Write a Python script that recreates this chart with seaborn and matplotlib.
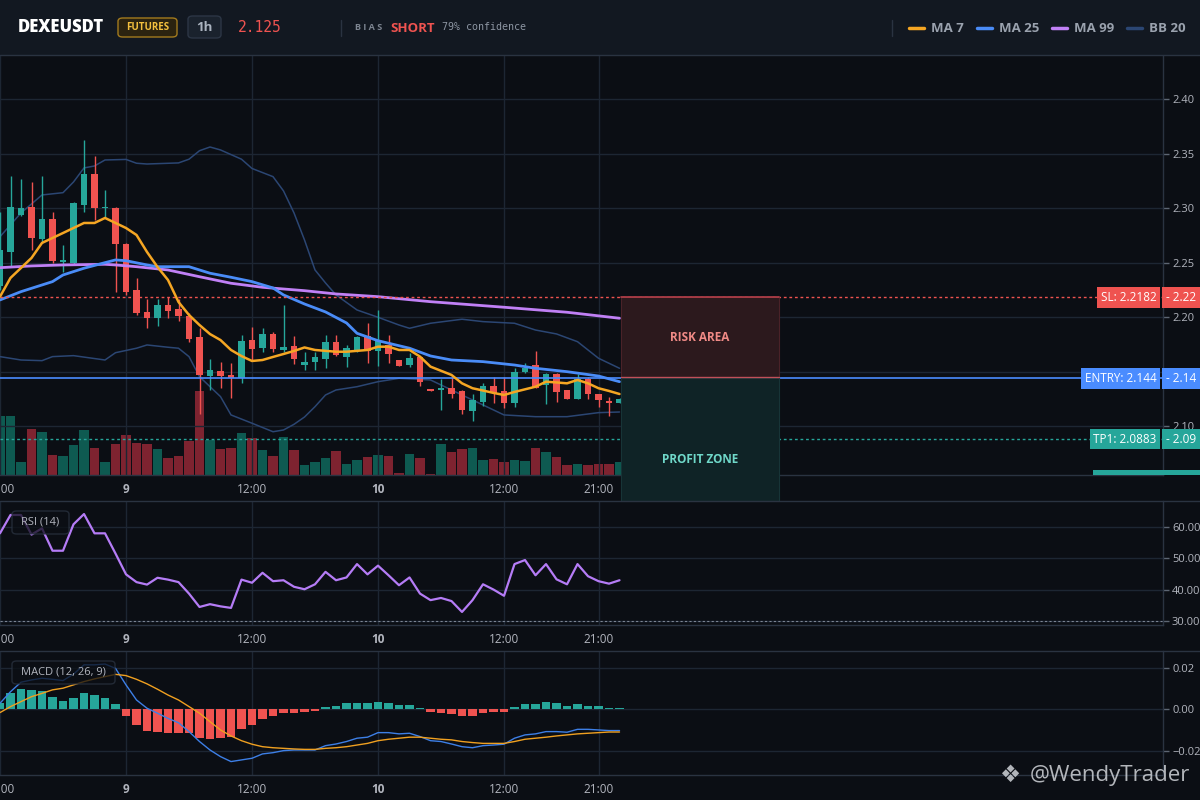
import matplotlib
matplotlib.use("Agg")
import matplotlib.pyplot as plt
import matplotlib.transforms as mtransforms
from matplotlib.patches import Rectangle, FancyBboxPatch
from matplotlib.lines import Line2D
import seaborn as sns

# ---- values: 1h candles, day 8 12:00 -> day 10 23:00 ----
opens = [2.2290, 2.2602, 2.2939, 2.3009, 2.2718, 2.2902, 2.2510, 2.2495, 2.3030, 2.3315,
         2.3003, 2.3003, 2.2672, 2.2250, 2.2049, 2.1996, 2.2113, 2.2076, 2.2012, 2.1822,
         2.1464, 2.1510, 2.1471, 2.1440, 2.1792, 2.1716, 2.1847, 2.1700, 2.1737, 2.1562,
         2.1593, 2.1617, 2.1773, 2.1639, 2.1694, 2.1828, 2.1694, 2.1746, 2.1608, 2.1562,
         2.1639, 2.1342, 2.1330, 2.1349, 2.1324, 2.1143, 2.1226, 2.1370, 2.1324, 2.1211,
         2.1498, 2.1560, 2.1376, 2.1480, 2.1333, 2.1250, 2.1437, 2.1296, 2.1235, 2.1217]
highs = [2.2969, 2.3296, 2.3269, 2.3244, 2.3296, 2.2969, 2.2663, 2.3061, 2.3627, 2.3480,
         2.3168, 2.3010, 2.2680, 2.2358, 2.2168, 2.2165, 2.2189, 2.2165, 2.2042, 2.1899,
         2.1615, 2.1587, 2.1578, 2.1838, 2.1908, 2.1899, 2.1868, 2.2113, 2.1828, 2.1684,
         2.1684, 2.1838, 2.1838, 2.1746, 2.1828, 2.1945, 2.2067, 2.1838, 2.1610, 2.1675,
         2.1645, 2.1345, 2.1437, 2.1455, 2.1333, 2.1294, 2.1400, 2.1455, 2.1455, 2.1532,
         2.1578, 2.1694, 2.1492, 2.1486, 2.1335, 2.1477, 2.1450, 2.1298, 2.1266, 2.1260]
lows = [2.2250, 2.2464, 2.2929, 2.2617, 2.2684, 2.2495, 2.2418, 2.2486, 2.2969, 2.2893,
        2.2908, 2.2235, 2.2205, 2.2021, 2.1905, 2.1923, 2.1996, 2.1966, 2.1771, 2.1113,
        2.1333, 2.1354, 2.1262, 2.1394, 2.1608, 2.1684, 2.1684, 2.1684, 2.1569, 2.1517,
        2.1517, 2.1532, 2.1645, 2.1547, 2.1684, 2.1583, 2.1553, 2.1578, 2.1550, 2.1541,
        2.1370, 2.1325, 2.1150, 2.1257, 2.1113, 2.1051, 2.1186, 2.1217, 2.1171, 2.1180,
        2.1492, 2.1350, 2.1205, 2.1226, 2.1248, 2.1248, 2.1250, 2.1180, 2.1097, 2.1210]
closes = [2.2617, 2.3009, 2.3000, 2.2730, 2.2902, 2.2517, 2.2526, 2.3051, 2.3315, 2.3006,
          2.3015, 2.2675, 2.2235, 2.2042, 2.1996, 2.2113, 2.2061, 2.2015, 2.1801, 2.1471,
          2.1517, 2.1464, 2.1440, 2.1783, 2.1709, 2.1847, 2.1709, 2.1730, 2.1617, 2.1590,
          2.1633, 2.1773, 2.1654, 2.1716, 2.1817, 2.1694, 2.1792, 2.1663, 2.1553, 2.1624,
          2.1409, 2.1327, 2.1351, 2.1296, 2.1150, 2.1241, 2.1370, 2.1303, 2.1217, 2.1498,
          2.1538, 2.1354, 2.1480, 2.1317, 2.1250, 2.1437, 2.1296, 2.1241, 2.1217, 2.1248]
volumes = [59, 59, 13, 46, 43, 20, 19, 30, 45, 27, 13, 31, 40, 32, 31, 26, 17, 19, 34, 84,
           35, 26, 27, 42, 37, 25, 19, 38, 25, 10, 13, 17, 24, 11, 15, 18, 20, 19, 2, 21,
           17, 1, 31, 23, 26, 27, 15, 16, 13, 15, 14, 27, 23, 18, 10, 11, 10, 11, 11, 13]

ma7_idx = [0, 1, 3, 4, 6, 8, 9, 10, 11, 12, 13, 14, 15, 16, 17, 18, 19, 20, 21, 22, 23, 24,
           25, 26, 27, 28, 29, 30, 32, 33, 35, 36, 37, 38, 39, 40, 41, 43, 44, 45, 46, 47,
           48, 49, 51, 52, 53, 54, 55, 56, 57, 58, 59]
ma7_val = [2.2189, 2.2361, 2.2544, 2.2682, 2.2773, 2.2865, 2.2865, 2.2911, 2.2865, 2.2819,
           2.2755, 2.2599, 2.2461, 2.2342, 2.2140, 2.2021, 2.1929, 2.1846, 2.1791, 2.1700,
           2.1644, 2.1599, 2.1608, 2.1636, 2.1663, 2.1691, 2.1723, 2.1700, 2.1684, 2.1684,
           2.1700, 2.1730, 2.1730, 2.1700, 2.1700, 2.1639, 2.1547, 2.1471, 2.1394, 2.1349,
           2.1328, 2.1306, 2.1287, 2.1315, 2.1363, 2.1409, 2.1402, 2.1394, 2.1425, 2.1394,
           2.1349, 2.1324, 2.1296]

ma25_idx = [0, 2, 5, 6, 8, 10, 11, 12, 14, 15, 18, 20, 22, 24, 26, 27, 29, 31, 33, 34, 36,
            39, 41, 43, 46, 49, 51, 54, 57, 59]
ma25_val = [2.2159, 2.2235, 2.2327, 2.2388, 2.2450, 2.2501, 2.2526, 2.2519, 2.2480, 2.2464,
            2.2464, 2.2404, 2.2367, 2.2327, 2.2269, 2.2205, 2.2122, 2.2049, 2.1948, 2.1853,
            2.1785, 2.1716, 2.1645, 2.1608, 2.1593, 2.1562, 2.1532, 2.1501, 2.1461, 2.1409]

ma99_idx = [0, 3, 6, 10, 11, 13, 16, 19, 22, 25, 29, 32, 36, 41, 48, 54, 59]
ma99_val = [2.2455, 2.2471, 2.2480, 2.2486, 2.2480, 2.2464, 2.2434, 2.2372, 2.2312, 2.2275,
            2.2244, 2.2214, 2.2189, 2.2143, 2.2092, 2.2046, 2.1991]

bb_up_idx = [0, 2, 4, 6, 7, 8, 9, 10, 12, 13, 14, 17, 18, 19, 20, 21, 23, 24, 26, 27, 28,
             29, 30, 31, 32, 34, 36, 38, 39, 41, 44, 46, 49, 51, 53, 55, 57, 59]
bb_up_val = [2.2739, 2.2957, 2.3122, 2.3143, 2.3241, 2.3370, 2.3388, 2.3443, 2.3448, 2.3413,
             2.3406, 2.3416, 2.3450, 2.3528, 2.3562, 2.3535, 2.3450, 2.3365, 2.3290, 2.3159,
             2.2957, 2.2709, 2.2434, 2.2315, 2.2205, 2.2067, 2.2000, 2.1929, 2.1899, 2.1945,
             2.1982, 2.1960, 2.1945, 2.1883, 2.1847, 2.1776, 2.1624, 2.1532]
bb_lo_idx = [0, 2, 4, 5, 7, 10, 11, 13, 14, 16, 17, 18, 19, 21, 22, 24, 26, 27, 28, 29, 30,
             31, 32, 34, 36, 38, 41, 44, 48, 51, 54, 57, 59]
bb_lo_val = [2.1639, 2.1608, 2.1602, 2.1639, 2.1648, 2.1608, 2.1675, 2.1716, 2.1746, 2.1725,
             2.1716, 2.1639, 2.1455, 2.1272, 2.1104, 2.1028, 2.0950, 2.0966, 2.1018, 2.1085,
             2.1180, 2.1287, 2.1333, 2.1363, 2.1409, 2.1440, 2.1425, 2.1287, 2.1104, 2.1088,
             2.1088, 2.1125, 2.1131]

rsi_vals = [58.1, 64.0, 64.0, 57.7, 59.7, 52.5, 52.5, 61.0, 64.3, 58.1,
            58.1, 51.6, 44.9, 42.4, 41.6, 43.8, 43.2, 42.4, 38.7, 34.4,
            35.3, 34.6, 34.1, 43.2, 42.2, 45.4, 42.7, 43.0, 40.9, 40.1,
            41.7, 45.7, 43.0, 43.9, 48.2, 44.9, 47.7, 44.6, 41.4, 43.9,
            38.7, 36.6, 37.3, 36.3, 32.8, 36.6, 41.7, 40.0, 38.0, 48.2,
            49.5, 44.6, 48.2, 43.3, 41.7, 48.2, 44.3, 42.7, 41.9, 43.0]

macd_hist = [0.0029, 0.0081, 0.0098, 0.0094, 0.0089, 0.0061, 0.0040, 0.0053, 0.0081, 0.0069,
             0.0053, 0.0026, -0.0031, -0.0076, -0.0105, -0.0110, -0.0113, -0.0113, -0.0116, -0.0137,
             -0.0145, -0.0140, -0.0135, -0.0095, -0.0076, -0.0047, -0.0031, -0.0019, -0.0019, -0.0013,
             -0.0010, 0.0013, 0.0018, 0.0032, 0.0032, 0.0032, 0.0037, 0.0032, 0.0021, 0.0021,
             0.0008, -0.0013, -0.0016, -0.0023, -0.0031, -0.0031, -0.0016, -0.0013, -0.0013, 0.0010,
             0.0026, 0.0026, 0.0035, 0.0029, 0.0016, 0.0026, 0.0016, 0.0016, 0.0008, 0.0006]
macd_line = [0.0029, 0.0085, 0.0131, 0.0142, 0.0150, 0.0145, 0.0139, 0.0170, 0.0215, 0.0215,
             0.0219, 0.0198, 0.0118, 0.0045, 0.0005, -0.0019, -0.0044, -0.0065, -0.0108, -0.0156,
             -0.0197, -0.0229, -0.0253, -0.0245, -0.0237, -0.0216, -0.0210, -0.0200, -0.0197, -0.0197,
             -0.0197, -0.0176, -0.0168, -0.0156, -0.0140, -0.0135, -0.0113, -0.0113, -0.0119, -0.0116,
             -0.0132, -0.0152, -0.0156, -0.0168, -0.0181, -0.0186, -0.0176, -0.0173, -0.0169, -0.0140,
             -0.0124, -0.0119, -0.0108, -0.0108, -0.0111, -0.0097, -0.0097, -0.0100, -0.0103, -0.0103]
macd_signal = [-0.0016, 0.0013, 0.0037, 0.0061, 0.0077, 0.0094, 0.0102, 0.0118, 0.0134, 0.0147,
               0.0158, 0.0169, 0.0163, 0.0145, 0.0123, 0.0097, 0.0069, 0.0045, 0.0013, -0.0019,
               -0.0060, -0.0100, -0.0129, -0.0152, -0.0169, -0.0181, -0.0186, -0.0189, -0.0192, -0.0194,
               -0.0194, -0.0189, -0.0186, -0.0181, -0.0173, -0.0165, -0.0152, -0.0145, -0.0140, -0.0135,
               -0.0135, -0.0140, -0.0145, -0.0148, -0.0156, -0.0161, -0.0165, -0.0165, -0.0165, -0.0156,
               -0.0145, -0.0140, -0.0135, -0.0129, -0.0124, -0.0119, -0.0116, -0.0113, -0.0110, -0.0110]

time_ticks = [0, 12, 24, 36, 48, 57]
time_labels = ["12:00", "9", "12:00", "10", "12:00", "21:00"]
day_labels = ["9", "10"]
price_ticks = [2.10, 2.15, 2.20, 2.25, 2.30, 2.35, 2.40]
rsi_ticks = [30, 40, 50, 60]
macd_ticks = [-0.02, 0.0, 0.02]

symbol = "DEXEUSDT"
market = "FUTURES"
interval = "1h"
last_price = 2.125
bias = "SHORT"
confidence = 79
entry = 2.144
stop_loss = 2.2182
take_profit = 2.0883
zone_floor = 2.0315
zone_hours = 15

# ---- colours ----
BG = "#0b0e14"
HEADER = "#121821"
GRID = "#1d2633"
BORDER = "#2a3341"
TEXT = "#b2b5be"
UP = "#26a69a"
DOWN = "#ef5350"
VOL_UP = "#0e5a51"
VOL_DOWN = "#7e2330"
MA7_C = "#f5a623"
MA25_C = "#4a8cf7"
MA99_C = "#c080f5"
BB_C = "#2b4673"

W, H = 1200, 800


def fx(px):
    return px / W


def fy(px):
    return 1 - px / H


def style_pane(ax, yticks, fmt):
    ax.set_facecolor(BG)
    ax.set_xlim(0, 110.76)
    ax.set_xticks(time_ticks)
    ax.set_xticklabels(time_labels)
    for lab in ax.get_xticklabels():
        if lab.get_text() in day_labels:
            lab.set_fontweight("bold")
            lab.set_color("#d1d4dc")
    ax.yaxis.tick_right()
    ax.set_yticks(yticks)
    ax.set_yticklabels([fmt(v) for v in yticks])
    ax.tick_params(axis="x", length=0, pad=6, labelsize=8.5, colors=TEXT)
    ax.tick_params(axis="y", length=4, width=1, pad=2.5, labelsize=8,
                   colors="#5d6673", labelcolor=TEXT)
    ax.grid(True, color=GRID, linewidth=1)
    ax.set_axisbelow(True)
    for side in ["top", "left"]:
        ax.spines[side].set_visible(False)
    for side in ["bottom", "right"]:
        ax.spines[side].set_color(BORDER)
        ax.spines[side].set_linewidth(1)
    ax.set_xlabel("")
    ax.set_ylabel("")


def draw_price_pane(fig):
    ax = fig.add_axes([0, fy(475), fx(1163), 420 / H])
    ax_vol = ax.twinx()
    ax.set_zorder(ax_vol.get_zorder() + 1)
    ax.patch.set_visible(False)
    ax_vol.set_facecolor(BG)
    for s in ax_vol.spines.values():
        s.set_visible(False)

    x = list(range(len(closes)))
    rising = [c >= o for o, c in zip(opens, closes)]

    # volume
    ax_vol.bar(x, volumes, width=0.9, linewidth=0,
               color=[VOL_UP if r else VOL_DOWN for r in rising])
    ax_vol.set_ylim(0, 420)
    ax_vol.set_yticks([])

    style_pane(ax, price_ticks, lambda v: f"{v:.2f}")
    ax.set_ylim(2.0553, 2.4406)

    # candles
    colors = [UP if r else DOWN for r in rising]
    ax.vlines(x, lows, highs, colors=colors, linewidth=1, zorder=3)
    bottoms = [min(o, c) for o, c in zip(opens, closes)]
    heights = [max(abs(c - o), 0.0009) for o, c in zip(opens, closes)]
    ax.bar(x, heights, bottom=bottoms, width=0.66, color=colors, linewidth=0, zorder=4)

    # indicators
    sns.lineplot(x=bb_up_idx, y=bb_up_val, ax=ax, color=BB_C, linewidth=1.1, zorder=2)
    sns.lineplot(x=bb_lo_idx, y=bb_lo_val, ax=ax, color=BB_C, linewidth=1.1, zorder=2)
    sns.lineplot(x=ma99_idx, y=ma99_val, ax=ax, color=MA99_C, linewidth=2, zorder=5)
    sns.lineplot(x=ma25_idx, y=ma25_val, ax=ax, color=MA25_C, linewidth=2, zorder=5)
    sns.lineplot(x=ma7_idx, y=ma7_val, ax=ax, color=MA7_C, linewidth=1.8, zorder=6)
    ax.set_xlabel("")
    ax.set_ylabel("")

    # trade levels
    ax.axhline(stop_loss, color=DOWN, linewidth=1, linestyle=(0, (2, 2)), zorder=5)
    ax.axhline(entry, color="#4a8cff", linewidth=1.2, zorder=5)
    ax.axhline(take_profit, color=UP, linewidth=1, linestyle=(0, (2, 2)), zorder=5)

    # risk / profit boxes after the last candle
    x0 = len(closes) - 1 + 0.15
    ax.add_patch(Rectangle((x0, entry), zone_hours, stop_loss - entry,
                           facecolor="#2c191d", edgecolor="#4a2228", linewidth=0.8,
                           zorder=7))
    ax.plot([x0, x0 + zone_hours], [stop_loss, stop_loss], color="#b5404a", lw=1.2, zorder=8)
    ax.plot([x0, x0 + zone_hours], [entry + 0.0008, entry + 0.0008], color="#c0505a",
            lw=1, zorder=8)
    ax.add_patch(Rectangle((x0, zone_floor), zone_hours, entry - zone_floor,
                           facecolor="#0f2326", edgecolor="#173437", linewidth=0.8,
                           zorder=7, clip_on=False))
    ax.text(x0 + zone_hours / 2, (stop_loss + entry) / 2, "RISK AREA", color="#f08a86",
            fontsize=8.5, fontweight="bold", ha="center", va="center", zorder=9)
    ax.text(x0 + zone_hours / 2, 2.0691, "PROFIT ZONE", color="#6fd8c9",
            fontsize=8.5, fontweight="bold", ha="center", va="center", zorder=9)

    # right-hand labels
    tr = mtransforms.blended_transform_factory(ax.transAxes, ax.transData)
    for y, name, val, c in [(stop_loss, "SL: 2.2182", "2.22", DOWN),
                            (entry, "ENTRY: 2.144", "2.14", "#4a8cff"),
                            (take_profit, "TP1: 2.0883", "2.09", UP)]:
        ax.text(0.9945, y, name, transform=tr, ha="right", va="center", fontsize=8.5,
                color="white", zorder=12, clip_on=False,
                bbox=dict(boxstyle="square,pad=0.32", fc=c, ec="none"))
        ax.text(1.0026, y, "- " + val, transform=tr, ha="left", va="center", fontsize=8.5,
                color="white", zorder=12, clip_on=False,
                bbox=dict(boxstyle="square,pad=0.32", fc=c, ec="none"))
    return ax


def draw_rsi_pane(fig):
    ax = fig.add_axes([0, fy(625), fx(1163), 124 / H])
    style_pane(ax, rsi_ticks, lambda v: f"{v:.2f}")
    sns.lineplot(x=list(range(len(rsi_vals))), y=rsi_vals, ax=ax, color="#b57cf6",
                 linewidth=1.6)
    ax.axhline(30, color="#7c8594", linewidth=0.8, linestyle=(0, (2, 2)))
    ax.set_ylim(28.6, 68.5)
    ax.set_xlabel("")
    ax.set_ylabel("")
    return ax


def draw_macd_pane(fig):
    ax = fig.add_axes([0, fy(775), fx(1163), 124 / H])
    style_pane(ax, macd_ticks, lambda v: f"{v:.2f}".replace("-", "\u2212"))
    x = list(range(len(macd_hist)))
    ax.bar(x, macd_hist, width=0.85, linewidth=0,
           color=[UP if v >= 0 else DOWN for v in macd_hist], zorder=2)
    sns.lineplot(x=x, y=macd_line, ax=ax, color="#3d7fe6", linewidth=1, zorder=3)
    sns.lineplot(x=x, y=macd_signal, ax=ax, color="#f0a020", linewidth=1, zorder=3)
    ax.set_ylim(-0.0318, 0.0282)
    ax.set_xlabel("")
    ax.set_ylabel("")
    return ax


def fig_box(fig, x0, y0, x1, y1, fc, ec, lw=1, z=20, alpha=1.0):
    fig.add_artist(FancyBboxPatch((fx(x0), fy(y1)), fx(x1 - x0), (y1 - y0) / H,
                                  boxstyle="round,pad=0,rounding_size=0.004",
                                  transform=fig.transFigure, facecolor=fc, edgecolor=ec,
                                  linewidth=lw, zorder=z, alpha=alpha))


def draw_header(fig):
    fig.add_artist(Rectangle((0, fy(55)), 1, 55 / H, transform=fig.transFigure,
                             facecolor=HEADER, edgecolor="none", zorder=15))
    fig.add_artist(Line2D([0, 1], [fy(55), fy(55)], transform=fig.transFigure,
                          color=BORDER, linewidth=1, zorder=16))
    fig.text(fx(18), fy(28), symbol, fontsize=12, fontweight="heavy", color="white",
             va="center", ha="left", zorder=21)
    fig_box(fig, 118, 18, 177, 37, "#2b2310", "#a27a1e")
    fig.text(fx(147.5), fy(27.5), market, fontsize=7, fontweight="bold", color="#f3c03e",
             va="center", ha="center", zorder=21)
    fig_box(fig, 188, 16, 221, 38, "#1a222d", "#2c3645")
    fig.text(fx(204.5), fy(27.5), interval, fontsize=9.5, fontweight="bold",
             color="#aab3bf", va="center", ha="center", zorder=21)
    fig.text(fx(238), fy(28), f"{last_price:.3f}", fontsize=10.5, color=DOWN,
             family="DejaVu Sans Mono", va="center", ha="left", zorder=21)
    fig.add_artist(Line2D([fx(340.5), fx(340.5)], [fy(20), fy(36)],
                          transform=fig.transFigure, color=BORDER, lw=1, zorder=21))
    fig.text(fx(355), fy(28), "B I A S", fontsize=6.5, fontweight="bold", color="#7d8591",
             va="center", ha="left", zorder=21)
    fig.text(fx(390), fy(28), bias, fontsize=9.5, fontweight="bold", color=DOWN,
             va="center", ha="left", zorder=21)
    fig.text(fx(442), fy(27), f"{confidence}% confidence", fontsize=7.2, color="#8d96a3",
             family="DejaVu Sans Mono", va="center", ha="left", zorder=21)

    # legend
    fig.add_artist(Line2D([fx(892), fx(892)], [fy(20), fy(36)],
                          transform=fig.transFigure, color=BORDER, lw=1, zorder=21))
    for lx, name, c in [(909, "MA 7", MA7_C), (977, "MA 25", MA25_C),
                        (1052, "MA 99", MA99_C), (1127, "BB 20", BB_C)]:
        fig.add_artist(Line2D([fx(lx), fx(lx + 15)], [fy(27.5), fy(27.5)],
                              transform=fig.transFigure, color=c, lw=2.5, zorder=21,
                              solid_capstyle="round"))
        fig.text(fx(lx + 22), fy(28), name, fontsize=9.5, fontweight="bold",
                 color="#9aa2ae", va="center", ha="left", zorder=21)


def draw_extras(fig):
    # pane separators
    for y in [500.5, 650.5]:
        fig.add_artist(Line2D([0, 1], [fy(y), fy(y)], transform=fig.transFigure,
                              color=BORDER, lw=1, zorder=16))
    # current volume tag
    fig.add_artist(Rectangle((fx(1093), fy(475)), fx(107), 5 / H,
                             transform=fig.transFigure, facecolor=UP,
                             edgecolor="none", zorder=16))
    # indicator name tags
    fig_box(fig, 12, 511, 69, 534, BG, BORDER, z=18, alpha=0.75)
    fig.text(fx(40.5), fy(522.5), "RSI (14)", fontsize=8, color=TEXT,
             ha="center", va="center", zorder=21)
    fig_box(fig, 12, 661, 115, 684, BG, BORDER, z=18, alpha=0.75)
    fig.text(fx(63.5), fy(672.5), "MACD (12, 26, 9)", fontsize=8, color=TEXT,
             ha="center", va="center", zorder=21)
    # watermark
    fig.text(fx(1010), fy(775), "\u2756", fontsize=17, color="#d0d3d8", alpha=0.85,
             ha="center", va="center", zorder=21, family="DejaVu Sans")
    fig.text(fx(1190), fy(775), "@WendyTrader", fontsize=16, color="#d0d3d8", alpha=0.85,
             ha="right", va="center", zorder=21)


def main():
    sns.set_theme(style="dark", rc={"axes.facecolor": BG, "figure.facecolor": BG})
    plt.rcParams["font.family"] = ["Open Sans", "DejaVu Sans"]
    fig = plt.figure(figsize=(12, 8), dpi=100)
    fig.patch.set_facecolor(BG)

    draw_price_pane(fig)
    draw_rsi_pane(fig)
    draw_macd_pane(fig)
    draw_header(fig)
    draw_extras(fig)

    fig.savefig("out.png", dpi=100, facecolor=BG)


if __name__ == "__main__":
    main()
